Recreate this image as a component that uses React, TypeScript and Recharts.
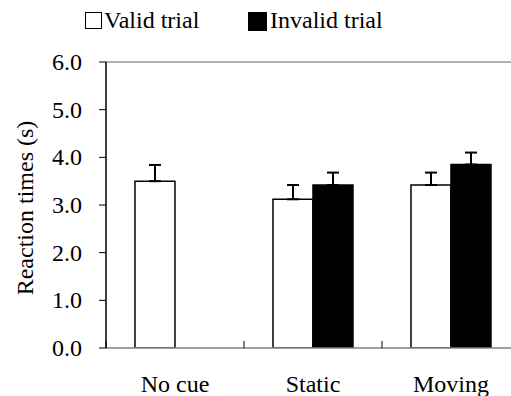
import React from 'react';
import { BarChart, Bar, XAxis, YAxis, ErrorBar, ReferenceLine, Legend } from 'recharts';

const categories = ['No cue', 'Static', 'Moving'];
const validMeans = [3.5, 3.12, 3.42];
const validErrors = [0.34, 0.3, 0.26];
const invalidMeans: (number | null)[] = [null, 3.42, 3.85];
const invalidErrors: (number | null)[] = [null, 0.26, 0.25];
const yTicks = [0, 1, 2, 3, 4, 5, 6];

const data = categories.map((c, i) => ({
  name: c,
  valid: validMeans[i],
  validErr: [0, validErrors[i]],
  invalid: invalidMeans[i],
  invalidErr: invalidErrors[i] == null ? null : [0, invalidErrors[i]],
}));

const FONT = 'Liberation Serif';
const FS = 24;

const CSS = `
#root #chartbox, #root #chartbox *, #root #chartbox svg text, #root #chartbox .recharts-text, #root #chartbox .recharts-legend-wrapper * {
  font-family: "Liberation Serif", serif !important;
}
`;

const XTick = (props: any) => {
  const { x, y, payload } = props;
  const off = payload && payload.offset ? payload.offset : 0;
  return (
    <g>
      <line x1={x - off} x2={x - off} y1={y} y2={y - 7} stroke="#000" strokeWidth={1} />
      <text x={x} y={y + 44} textAnchor="middle" fontFamily={FONT} fontSize={FS} fill="#000">
        {payload.value}
      </text>
    </g>
  );
};

const LegendContent = () => (
  <div
    style={{
      height: 30,
      position: 'relative',
      fontFamily: FONT,
      fontSize: FS,
      color: '#000',
      lineHeight: '30px',
    }}
  >
    <div style={{ position: 'absolute', left: 85, top: 12, width: 15, height: 15, border: '1.5px solid #000', background: '#fff' }} />
    <span style={{ position: 'absolute', left: 104, top: 5 }}>Valid trial</span>
    <div style={{ position: 'absolute', left: 248, top: 12, width: 19, height: 19, background: '#000' }} />
    <span style={{ position: 'absolute', left: 270, top: 5 }}>Invalid trial</span>
  </div>
);

const YLabel = (props: any) => {
  const vb = props.viewBox || { x: 0, y: 0, width: 0, height: 0 };
  const cx = 25;
  const cy = vb.y + vb.height / 2 + 3;
  return (
    <text
      x={cx}
      y={cy}
      transform={`rotate(-90, ${cx}, ${cy})`}
      textAnchor="middle"
      dominantBaseline="central"
      fontFamily={FONT}
      fontSize={FS}
      fill="#000"
    >
      Reaction times (s)
    </text>
  );
};

const YTick = (props: any) => {
  const { x, y, payload } = props;
  return (
    <text x={x} y={y} dy={8} textAnchor="end" fontFamily={FONT} fontSize={FS} fill="#000">
      {Number(payload.value).toFixed(1)}
    </text>
  );
};

export default function App() {
  return (
    <div id="chartbox" style={{ position: 'absolute', left: 0, top: 0, width: 511, height: 396, overflow: 'hidden', background: '#fff', fontFamily: FONT }}>
      <style>{CSS}</style>
      <BarChart
        width={530}
        height={396}
        data={data}
        margin={{ top: 32, right: 10, bottom: 0, left: 0 }}
        barCategoryGap="21%"
        barGap={0}
      >
        <Legend
          verticalAlign="top"
          content={<LegendContent />}
          wrapperStyle={{ top: 0, left: 0, width: 511, height: 30 }}
        />
        <XAxis
          dataKey="name"
          height={48}
          axisLine={{ stroke: '#808080', strokeWidth: 1.5 }}
          tickLine={false}
          tickSize={0}
          tickMargin={0}
          tick={<XTick />}
          interval={0}
        />
        <YAxis
          width={106}
          domain={[0, 6]}
          ticks={yTicks}
          allowDataOverflow
          axisLine={{ stroke: '#000', strokeWidth: 1.5 }}
          tickLine={{ stroke: '#000' }}
          tickSize={7}
          tickMargin={17}
          tick={<YTick />}
          label={<YLabel />}
        />
        <ReferenceLine y={6} stroke="#999" strokeWidth={1.5} />
        <Bar dataKey="valid" fill="#fff" stroke="#000" strokeWidth={1.5} isAnimationActive={false}>
          <ErrorBar dataKey="validErr" direction="y" width={6} stroke="#000" strokeWidth={2} isAnimationActive={false} />
        </Bar>
        <Bar dataKey="invalid" fill="#000" stroke="#000" strokeWidth={1.5} isAnimationActive={false}>
          <ErrorBar dataKey="invalidErr" direction="y" width={6} stroke="#000" strokeWidth={2} isAnimationActive={false} />
        </Bar>
      </BarChart>
    </div>
  );
}
